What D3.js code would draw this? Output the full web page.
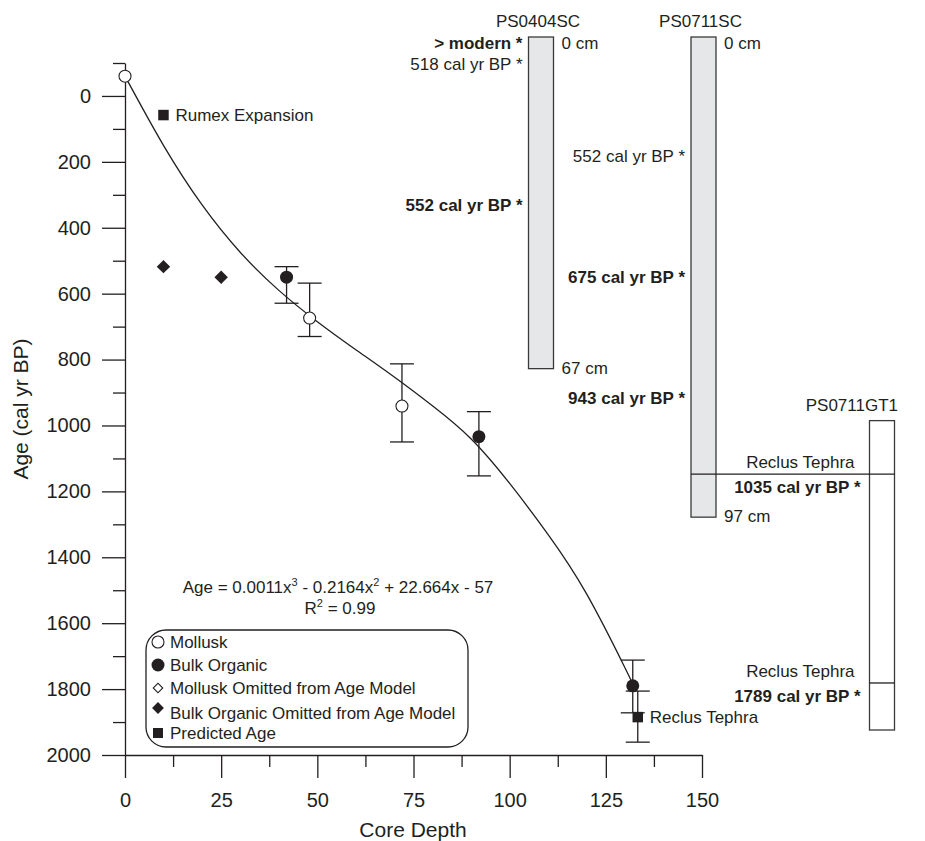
<!DOCTYPE html>
<html>
<head>
<meta charset="utf-8">
<script src="https://cdn.jsdelivr.net/npm/d3@7"></script>
<style>
  body { margin: 0; background: #fff; }
  svg text { font-family: "Liberation Sans", Arial, Helvetica, sans-serif; fill: #231f20; }
</style>
</head>
<body>
<div id="container"></div>
<script>
// ---- age model data ----
var molluskDepth = [0, 48, 72];
var molluskAge = [-60, 674, 941];
var molluskErrLow = [null, 568, 813];
var molluskErrHigh = [null, 730, 1050];

var bulkDepth = [42, 92, 132];
var bulkAge = [550, 1034, 1790];
var bulkErrLow = [518, 958, 1712];
var bulkErrHigh = [629, 1153, 1872];

var bulkOmittedDepth = [10, 25];
var bulkOmittedAge = [518, 550];

var predictedDepth = [10, 133.3];
var predictedAge = [58, 1885];
var predictedErrLow = [null, 1806];
var predictedErrHigh = [null, 1961];
var predictedLabel = ["Rumex Expansion", "Reclus Tephra"];

// fitted age model curve
var fitDepth = [0, 10, 20, 30, 40, 50, 60, 70, 80, 90, 100, 110, 120, 130, 131.8];
var fitAge = [-60, 150, 330, 475, 590, 685, 770, 853, 941, 1041, 1176, 1331, 1511, 1736, 1781];

var xTicks = [0, 25, 50, 75, 100, 125, 150];
var xMinorTicks = [12.5, 37.5, 62.5, 87.5, 112.5, 137.5];
var yTicks = [0, 200, 400, 600, 800, 1000, 1200, 1400, 1600, 1800, 2000];
var yMinorTicks = [-100, 100, 300, 500, 700, 900, 1100, 1300, 1500, 1700, 1900];

// ---- core logs ----
var coreNames = ["PS0404SC", "PS0711SC", "PS0711GT1"];
var coreTop = [0, 0, 77.5];
var coreBottom = [67, 97, 140];
var coreTopLabel = ["0 cm", "0 cm", ""];
var coreBottomLabel = ["67 cm", "97 cm", ""];

var dateCore = ["PS0404SC", "PS0404SC", "PS0404SC", "PS0711SC", "PS0711SC", "PS0711SC"];
var dateDepth = [1.2, 5.5, 33.9, 24.0, 48.4, 73.0];
var dateText = ["> modern *", "518 cal yr BP *", "552 cal yr BP *", "552 cal yr BP *", "675 cal yr BP *", "943 cal yr BP *"];
var dateBold = [true, false, true, false, true, true];

var tephraCore = ["PS0711SC", "PS0711GT1"];
var tephraDepth = [88.3, 130.5];
var tephraDate = ["1035 cal yr BP *", "1789 cal yr BP *"];

var ink = "#231f20";
var width = 925, height = 841;

var svg = d3.select("#container")
  .append("svg")
    .attr("width", width)
    .attr("height", height)
    .attr("id", "chart");

// scales
var x = d3.scaleLinear().domain([0, 150]).range([125, 702]);
var y = d3.scaleLinear().domain([-100, 2000]).range([63, 755]);

// Y axis
svg.append("g").attr("transform", "translate(125,0)")
  .call(d3.axisLeft(y).tickValues(yTicks).tickFormat(d3.format("d"))
    .tickSize(23).tickSizeOuter(0).tickPadding(11));
svg.append("g").attr("transform", "translate(125,0)")
  .call(d3.axisLeft(y).tickValues(yMinorTicks).tickSize(12).tickSizeOuter(0).tickFormat(""))
  .select(".domain").remove();

// X axis
svg.append("g").attr("transform", "translate(0,755)")
  .call(d3.axisBottom(x).tickValues(xTicks).tickSize(23).tickSizeOuter(0).tickPadding(15));
svg.append("g").attr("transform", "translate(0,755)")
  .call(d3.axisBottom(x).tickValues(xMinorTicks).tickSize(12).tickSizeOuter(0).tickFormat(""))
  .select(".domain").remove();

svg.selectAll(".tick line, .domain").attr("stroke", ink).attr("stroke-width", 1.3);
svg.selectAll(".tick text").attr("font-size", 20).attr("fill", ink)
  .style("font-family", "'Liberation Sans', Arial, sans-serif");

// axis titles
svg.append("text")
  .attr("x", 413).attr("y", 837)
  .attr("text-anchor", "middle").attr("font-size", 21)
  .text("Core Depth");
svg.append("text")
  .attr("transform", "translate(28,409) rotate(-90)")
  .attr("text-anchor", "middle").attr("font-size", 21)
  .text("Age (cal yr BP)");

// fitted curve
var fit = fitDepth.map(function(d, i) { return { depth: d, age: fitAge[i] }; });
svg.append("path")
  .datum(fit)
  .attr("fill", "none")
  .attr("stroke", ink)
  .attr("stroke-width", 1.3)
  .attr("d", d3.line()
    .curve(d3.curveNatural)
    .x(function(d) { return x(d.depth); })
    .y(function(d) { return y(d.age); }));

// error bars
function errorBars(depths, lows, highs) {
  var rows = depths.map(function(d, i) { return { depth: d, lo: lows[i], hi: highs[i] }; })
    .filter(function(d) { return d.lo != null; });
  var g = svg.append("g").attr("stroke", ink).attr("stroke-width", 1.3);
  rows.forEach(function(d) {
    g.append("line").attr("x1", x(d.depth)).attr("x2", x(d.depth)).attr("y1", y(d.lo)).attr("y2", y(d.hi));
    [d.lo, d.hi].forEach(function(v) {
      g.append("line").attr("x1", x(d.depth) - 12).attr("x2", x(d.depth) + 12).attr("y1", y(v)).attr("y2", y(v));
    });
  });
}
errorBars(molluskDepth, molluskErrLow, molluskErrHigh);
errorBars(bulkDepth, bulkErrLow, bulkErrHigh);
errorBars(predictedDepth, predictedErrLow, predictedErrHigh);

var square = d3.symbol().type(d3.symbolSquare);

// mollusk (open circles)
svg.append("g").selectAll("circle")
  .data(molluskDepth)
  .join("circle")
    .attr("cx", function(d) { return x(d); })
    .attr("cy", function(d, i) { return y(molluskAge[i]); })
    .attr("r", 6)
    .attr("fill", "#fff")
    .attr("stroke", ink)
    .attr("stroke-width", 1.1);

// bulk organic (filled circles)
svg.append("g").selectAll("circle")
  .data(bulkDepth)
  .join("circle")
    .attr("cx", function(d) { return x(d); })
    .attr("cy", function(d, i) { return y(bulkAge[i]); })
    .attr("r", 6.5)
    .attr("fill", ink);

// bulk organic omitted (filled diamonds)
svg.append("g").selectAll("path")
  .data(bulkOmittedDepth)
  .join("path")
    .attr("transform", function(d, i) {
      return "translate(" + x(d) + "," + y(bulkOmittedAge[i]) + ") rotate(45)";
    })
    .attr("d", square.size(90))
    .attr("fill", ink);

// predicted age (filled squares + labels)
svg.append("g").selectAll("path")
  .data(predictedDepth)
  .join("path")
    .attr("transform", function(d, i) {
      return "translate(" + x(d) + "," + y(predictedAge[i]) + ")";
    })
    .attr("d", square.size(110))
    .attr("fill", ink);
svg.append("g").selectAll("text")
  .data(predictedDepth)
  .join("text")
    .attr("x", function(d) { return x(d) + 12; })
    .attr("y", function(d, i) { return y(predictedAge[i]); })
    .attr("dy", "0.35em")
    .attr("font-size", 17)
    .text(function(d, i) { return predictedLabel[i]; });

// equation
var eq = svg.append("text").attr("x", 338).attr("y", 593)
  .attr("text-anchor", "middle").attr("font-size", 17);
eq.append("tspan").text("Age = 0.0011x");
eq.append("tspan").attr("dy", -7).attr("font-size", 11).text("3");
eq.append("tspan").attr("dy", 7).text(" - 0.2164x");
eq.append("tspan").attr("dy", -7).attr("font-size", 11).text("2");
eq.append("tspan").attr("dy", 7).text(" + 22.664x - 57");
var r2 = svg.append("text").attr("x", 340).attr("y", 614)
  .attr("text-anchor", "middle").attr("font-size", 17);
r2.append("tspan").text("R");
r2.append("tspan").attr("dy", -7).attr("font-size", 11).text("2");
r2.append("tspan").attr("dy", 7).text(" = 0.99");

// legend
var legend = svg.append("g");
legend.append("rect")
  .attr("x", 146).attr("y", 630).attr("width", 322).attr("height", 117)
  .attr("rx", 20).attr("ry", 20)
  .attr("fill", "#fff").attr("stroke", ink).attr("stroke-width", 1.3);
legend.append("circle").attr("cx", 158).attr("cy", 642).attr("r", 6)
  .attr("fill", "#fff").attr("stroke", ink).attr("stroke-width", 1.1);
legend.append("circle").attr("cx", 158).attr("cy", 665).attr("r", 6.5).attr("fill", ink);
legend.append("path").attr("transform", "translate(158,688) rotate(45)")
  .attr("d", square.size(45)).attr("fill", "#fff").attr("stroke", ink).attr("stroke-width", 1.1);
legend.append("path").attr("transform", "translate(158,708) rotate(45)")
  .attr("d", square.size(70)).attr("fill", ink);
legend.append("path").attr("transform", "translate(158,733)")
  .attr("d", square.size(100)).attr("fill", ink);
var legendText = [["Mollusk", 648], ["Bulk Organic", 671], ["Mollusk Omitted from Age Model", 694],
                  ["Bulk Organic Omitted from Age Model", 719], ["Predicted Age", 739]];
legend.selectAll("text.lg")
  .data(legendText)
  .join("text")
    .attr("class", "lg")
    .attr("x", 170)
    .attr("y", function(d) { return d[1]; })
    .attr("font-size", 17)
    .text(function(d) { return d[0]; });

// ---- core columns ----
var coreY = d3.scaleLinear().domain([0, 140]).range([37, 37 + 140 * 4.95]);
var coreX = d3.scaleOrdinal().domain(coreNames).range([541, 703.5, 882]);
var coreW = 25;
var coreFill = ["#e6e7e8", "#e6e7e8", "#fff"];

var cores = svg.append("g");
coreNames.forEach(function(name, i) {
  var cx = coreX(name);
  cores.append("rect")
    .attr("x", cx - coreW / 2).attr("y", coreY(coreTop[i]))
    .attr("width", coreW).attr("height", coreY(coreBottom[i]) - coreY(coreTop[i]))
    .attr("fill", coreFill[i]).attr("stroke", "#3a3a3a").attr("stroke-width", 1.3);
  cores.append("text")
    .attr("x", i === 2 ? cx + 16 : cx - 3)
    .attr("y", coreY(coreTop[i]) - 10)
    .attr("text-anchor", i === 2 ? "end" : "middle")
    .attr("font-size", 17)
    .text(name);
  if (coreTopLabel[i]) {
    cores.append("text").attr("x", cx + coreW / 2 + 8).attr("y", coreY(coreTop[i]) + 6)
      .attr("dy", "0.35em").attr("font-size", 17).text(coreTopLabel[i]);
    cores.append("text").attr("x", cx + coreW / 2 + 8).attr("y", coreY(coreBottom[i]) - 1)
      .attr("dy", "0.35em").attr("font-size", 17).text(coreBottomLabel[i]);
  }
});

// dates to the left of the cores
cores.selectAll("text.date")
  .data(dateText)
  .join("text")
    .attr("class", "date")
    .attr("x", function(d, i) { return coreX(dateCore[i]) - coreW / 2 - 6; })
    .attr("y", function(d, i) { return coreY(dateDepth[i]); })
    .attr("dy", "0.35em")
    .attr("text-anchor", "end")
    .attr("font-size", 17)
    .attr("font-weight", function(d, i) { return dateBold[i] ? "bold" : "normal"; })
    .text(function(d) { return d; });

// Reclus tephra markers
tephraCore.forEach(function(name, i) {
  var ty = coreY(tephraDepth[i]);
  var x0 = coreX(name) - coreW / 2;
  var x1 = coreX("PS0711GT1") + coreW / 2;
  cores.append("line").attr("x1", x0).attr("x2", x1).attr("y1", ty).attr("y2", ty)
    .attr("stroke", ink).attr("stroke-width", 1.3);
  cores.append("text").attr("x", coreX("PS0711GT1") - coreW / 2 - 15).attr("y", ty - 12)
    .attr("dy", "0.35em").attr("text-anchor", "end").attr("font-size", 17).text("Reclus Tephra");
  cores.append("text").attr("x", coreX("PS0711GT1") - coreW / 2 - 9).attr("y", ty + 13)
    .attr("dy", "0.35em").attr("text-anchor", "end").attr("font-size", 17)
    .attr("font-weight", "bold").text(tephraDate[i]);
});
</script>
</body>
</html>
